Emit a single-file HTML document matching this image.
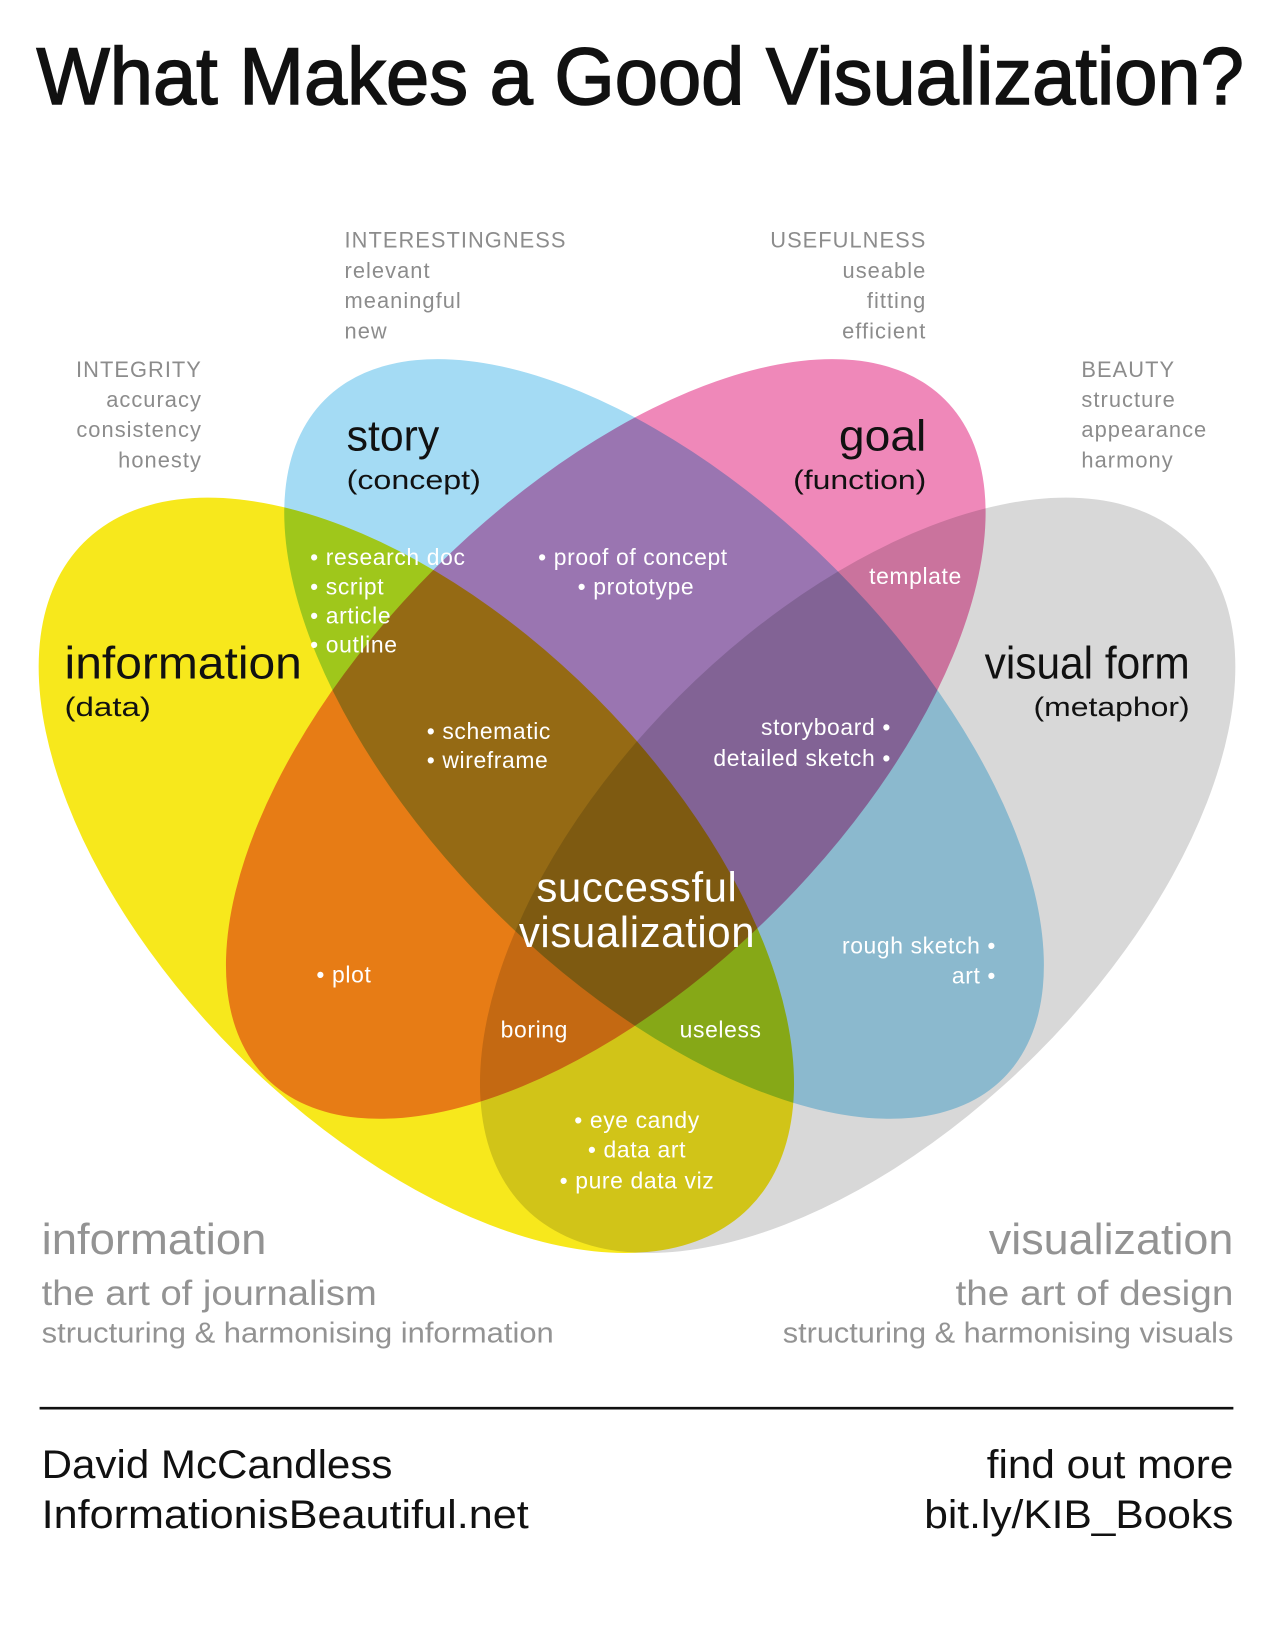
<!DOCTYPE html>
<html><head><meta charset="utf-8"><style>
html,body{margin:0;padding:0;background:#fff;}
svg{display:block;}
text{font-family:"Liberation Sans","DejaVu Sans",sans-serif;}
.g{fill:#8c8c8c;font-size:21px;letter-spacing:1px;}
.w{fill:#fff;font-size:22px;letter-spacing:0.6px;}
.k{fill:#111;}
.b{fill:#939393;}
</style></head><body>
<svg width="1274" height="1632" viewBox="0 0 1224 1568" xmlns="http://www.w3.org/2000/svg">
<rect width="1224" height="1568" fill="#fff"/>
<text x="35" y="100" font-size="78" class="k" stroke="#111" stroke-width="1.5" textLength="1160" lengthAdjust="spacingAndGlyphs">What Makes a Good Visualization?</text>

<g style="isolation:isolate">
<ellipse cx="824" cy="841" rx="452" ry="243" transform="rotate(-45 824 841)" fill="#d8d8d8" style="mix-blend-mode:multiply"/>
<ellipse cx="400" cy="841" rx="452" ry="243" transform="rotate(45 400 841)" fill="#f7e81c" style="mix-blend-mode:multiply"/>
<ellipse cx="638" cy="710" rx="461" ry="232" transform="rotate(45 638 710)" fill="#a4dbf4" style="mix-blend-mode:multiply"/>
<ellipse cx="582" cy="710" rx="461" ry="232" transform="rotate(-45 582 710)" fill="#ef88b9" style="mix-blend-mode:multiply"/>
</g>

<g class="g">
<text x="331" y="238">INTERESTINGNESS</text>
<text x="331" y="267">relevant</text>
<text x="331" y="296">meaningful</text>
<text x="331" y="325">new</text>
<g text-anchor="end">
<text x="890" y="238">USEFULNESS</text>
<text x="890" y="267">useable</text>
<text x="890" y="296">fitting</text>
<text x="890" y="325">efficient</text>
<text x="194" y="362">INTEGRITY</text>
<text x="194" y="391">accuracy</text>
<text x="194" y="420">consistency</text>
<text x="194" y="449">honesty</text>
</g>
<text x="1039" y="362">BEAUTY</text>
<text x="1039" y="391">structure</text>
<text x="1039" y="420">appearance</text>
<text x="1039" y="449">harmony</text>
</g>

<g class="k">
<text x="333" y="433" font-size="42" textLength="89" lengthAdjust="spacingAndGlyphs">story</text>
<text x="333" y="470" font-size="26" textLength="129" lengthAdjust="spacingAndGlyphs">(concept)</text>
<text x="890" y="433" font-size="42" text-anchor="end" textLength="84" lengthAdjust="spacingAndGlyphs">goal</text>
<text x="890" y="470" font-size="26" text-anchor="end" textLength="128" lengthAdjust="spacingAndGlyphs">(function)</text>
<text x="62" y="652" font-size="44" textLength="228" lengthAdjust="spacingAndGlyphs">information</text>
<text x="62" y="688" font-size="26" textLength="83" lengthAdjust="spacingAndGlyphs">(data)</text>
<text x="1143" y="652" font-size="44" text-anchor="end" textLength="197" lengthAdjust="spacingAndGlyphs">visual form</text>
<text x="1143" y="688" font-size="26" text-anchor="end" textLength="150" lengthAdjust="spacingAndGlyphs">(metaphor)</text>
</g>

<g class="w">
<text x="298" y="543">• research doc</text>
<text x="298" y="571">• script</text>
<text x="298" y="599">• article</text>
<text x="298" y="627">• outline</text>
<text x="517" y="543">• proof of concept</text>
<text x="555" y="571">• prototype</text>
<text x="835" y="561">template</text>
<text x="410" y="710">• schematic</text>
<text x="410" y="738">• wireframe</text>
<text x="856" y="706" text-anchor="end">storyboard •</text>
<text x="856" y="736" text-anchor="end">detailed sketch •</text>
<text x="612" y="866" font-size="40" text-anchor="middle" textLength="193" lengthAdjust="spacingAndGlyphs">successful</text>
<text x="612" y="910" font-size="42" text-anchor="middle" textLength="227" lengthAdjust="spacingAndGlyphs">visualization</text>
<text x="304" y="944">• plot</text>
<text x="957" y="916" text-anchor="end">rough sketch •</text>
<text x="957" y="945" text-anchor="end">art •</text>
<text x="481" y="997">boring</text>
<text x="653" y="997">useless</text>
<text x="612" y="1084" text-anchor="middle">• eye candy</text>
<text x="612" y="1112" text-anchor="middle">• data art</text>
<text x="612" y="1142" text-anchor="middle">• pure data viz</text>
</g>

<g class="b">
<text x="40" y="1205" font-size="42" textLength="216" lengthAdjust="spacingAndGlyphs">information</text>
<text x="40" y="1254" font-size="34" textLength="322" lengthAdjust="spacingAndGlyphs">the art of journalism</text>
<text x="40" y="1290" font-size="28" textLength="492" lengthAdjust="spacingAndGlyphs">structuring &amp; harmonising information</text>
<text x="1185" y="1205" font-size="42" text-anchor="end" textLength="235" lengthAdjust="spacingAndGlyphs">visualization</text>
<text x="1185" y="1254" font-size="34" text-anchor="end" textLength="267" lengthAdjust="spacingAndGlyphs">the art of design</text>
<text x="1185" y="1290" font-size="28" text-anchor="end" textLength="433" lengthAdjust="spacingAndGlyphs">structuring &amp; harmonising visuals</text>
</g>

<line x1="38" y1="1353" x2="1185" y2="1353" stroke="#111" stroke-width="2.5"/>

<g class="k">
<text x="40" y="1420" font-size="38" textLength="337" lengthAdjust="spacingAndGlyphs">David McCandless</text>
<text x="40" y="1468" font-size="38" textLength="468" lengthAdjust="spacingAndGlyphs">InformationisBeautiful.net</text>
<text x="1185" y="1420" font-size="38" text-anchor="end" textLength="237" lengthAdjust="spacingAndGlyphs">find out more</text>
<text x="1185" y="1468" font-size="38" text-anchor="end" textLength="297" lengthAdjust="spacingAndGlyphs">bit.ly/KIB_Books</text>
</g>
</svg>
</body></html>
